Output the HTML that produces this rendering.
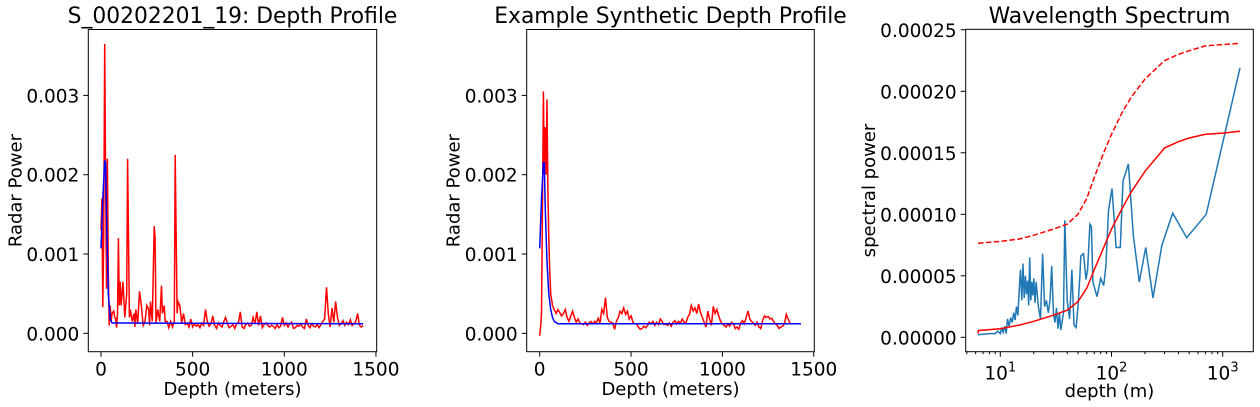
<!DOCTYPE html>
<html><head><meta charset="utf-8">
<style>
html,body{margin:0;padding:0;background:#fff;}
svg{display:block;font-family:"DejaVu Sans","Liberation Sans",sans-serif;}
</style></head>
<body>
<svg id="fig" width="1260" height="407" viewBox="0 0 1260 407" xmlns="http://www.w3.org/2000/svg"></svg>
<script>
// ---------- Panel 1 data (Radar Power in 1e-4 units) ----------
const p1RedDepth = [0,5,10,15,20,25,30,35,40,45,50,55,60,70,75,80,85,90,95,100,105,110,120,130,140,145,150,155,160,170,180,185,190,200,210,220,230,240,250,260,265,270,280,290,295,300,310,320,330,335,345,350,360,370,380,390,400,405,410,415,420,430,440,450,460,470,480,490];
const p1RedVal = [13,17,3.3,12,36.5,20,5.6,22,8,1,3.5,1.5,2.5,2.8,2,1.8,0.7,2.5,12,3.5,6.5,3.5,6.5,2,5,22,12,2,3,1.5,2.5,0.8,3,1.2,5.3,3.5,1,1.5,3.5,3,1,4,1.5,13.5,12,1.3,3,1.5,6,2.5,3.5,1.5,1.5,0.7,1.5,0.8,1.5,22.5,12,2.5,4,3.5,1.3,2.5,1.1,1.3,0.8,1.8];
const p1TailStart = 500, p1TailStep = 10;
const p1Tail = [0.8,1.2,0.9,1.1,0.7,1.3,1.0,3.0,1.5,0.9,1.2,2.2,1.0,0.6,1.3,1.0,0.8,1.5,2.0,1.2,0.7,0.9,1.1,0.6,1.2,1.4,2.7,0.8,0.6,1.1,1.3,0.9,1.0,2.0,1.2,2.7,1.0,2.2,0.7,1.1,1.3,1.0,0.8,1.0,0.9,0.6,1.1,0.7,0.9,2.0,1.0,1.3,0.8,1.2,1.4,0.6,0.7,1.0,0.9,1.2,0.8,0.6,1.8,1.0,0.7,1.2,0.9,0.8,1.1,0.7,1.1,1.5,1.8,5.8,2.5,0.8,3.2,1.4,4.0,2.0,1.0,1.2,1.6,1.0,1.4,1.1,1.7,1.0,1.2,1.5,2.5,1.0,0.8,1.0];
const p1BlueDepth = [0,10,20,25,30,40,50,60,1430];
const p1BlueVal = [10.7,17,21.7,21.6,15,5,1.8,1.3,1.2];

// ---------- Panel 2 data ----------
const p2RedDepth = [0,5,10,15,20,25,30,35,40,45,50,55,60,70,80,90];
const p2RedVal = [-0.3,0.8,2.5,15,30.5,20,26,20,29.5,18,12,8,5,3.5,3,2.5];
const p2TailStart = 100, p2TailStep = 10;
const p2Tail = [3,2.6,2.2,2.5,3.0,2.0,1.5,2.2,2.8,2.0,1.4,1.8,1.3,1.2,1.1,1.4,1.0,1.3,1.5,1.2,1.5,1.3,1.9,1.3,3.0,2.5,4.5,2.0,1.5,1.4,1.3,0.5,1.5,2.0,2.8,2.5,3.2,2.4,2.8,1.8,2.2,1.4,1.2,1.2,0.8,0.5,0.6,0.9,0.7,1.0,1.4,1.2,1.5,1.0,1.4,1.1,1.8,1.5,1.1,1.2,1.0,1.3,0.9,1.4,1.6,1.2,1.5,1.3,1.8,1.4,1.3,2.0,2.4,3.5,2.8,3.2,2.5,3.7,2.6,2.0,1.4,0.8,2.8,1.8,1.0,3.4,2.5,3.0,2.2,1.5,1.2,1.0,0.8,1.2,0.9,1.4,1.2,0.6,0.8,0.5,1.3,1.6,1.2,2.0,2.8,1.8,1.5,1.3,1.0,1.4,0.8,0.6,1.6,2.2,2.0,2.1,1.8,1.9,1.5,1.2,1.0,0.6,0.8,0.9,1.2,2.4,1.8,1.3];
const p2BlueDepth = [0,10,20,25,30,40,50,60,70,80,100,1430];
const p2BlueVal = [10.7,17,21.5,21.5,16,9,5,3,2,1.5,1.2,1.2];

// ---------- Panel 3 data (spectral power in 1e-5 units) ----------
const p3BlueDepth = [6.3,8,9,9.5,10,10.3,10.6,11,11.3,11.6,12,12.4,12.8,13.2,13.6,14,14.4,14.8,15.2,15.6,16,16.4,16.8,17.2,17.6,18,18.4,18.8,19.2,19.6,20,20.5,21,22,23,24,25,26,27,28,29,30,31,32,33,34,35,37,38,40,42,44,46,48,50,52,53,56,59,61,64,66,68,74,80,85,89,94,101,110,120,127,142,157,178,203,236,284,355,475,710,1430];
const p3BlueVal = [0.2,0.3,0.3,0.5,0.3,0.8,0.4,0.9,0.3,1.5,0.9,1.6,1.2,2,1.4,2.5,1.8,3.8,5.5,3,6,3.2,5,3.5,4.6,2.6,6.5,3,4.5,3.4,4.8,2.8,4.5,2.5,1.5,6.8,2.5,3,2,3,5.8,2,1.2,2.4,0.7,2,0.6,2,9.5,3,1.5,5.5,1,0.8,2.5,5,6.6,6.8,4.7,5.5,9.2,9,4.5,3.3,4.8,4.2,5.8,10.3,12.1,7.3,7.3,12.7,14.1,8.3,4.5,7.3,3.2,7.5,10.1,8.1,10,21.9];
const p3DashDepth = [6.3,10,15,20,30,40,50,60,70,85,100,125,150,200,300,400,500,700,1000,1430];
const p3DashVal = [7.65,7.8,8.0,8.3,8.8,9.2,10,11.3,13,15,16.5,18.3,19.5,21,22.5,23,23.3,23.7,23.8,23.9];
const p3SolidDepth = [6.3,6.35,10,15,20,30,40,50,60,70,85,100,125,150,200,300,400,500,700,1000,1430];
const p3SolidVal = [0.3,0.55,0.7,1.0,1.3,1.8,2.2,2.9,4.0,5.5,7.3,8.8,10.5,11.8,13.5,15.4,15.9,16.2,16.5,16.6,16.75];

const p1Ticks = [0,500,1000,1500];
const p1YTicks = ["0.000","0.001","0.002","0.003"];
const p3YTicks = ["0.00000","0.00005","0.00010","0.00015","0.00020","0.00025"];
const p3XTicks = [1,2,3];

const FS = 18.5, LFS = 18, TFS = 21.8;
const NS = "http://www.w3.org/2000/svg";
const svg = document.getElementById('fig');
function el(tag, attrs, parent){
  const e = document.createElementNS(NS, tag);
  for (const k in attrs) e.setAttribute(k, attrs[k]);
  (parent||svg).appendChild(e);
  return e;
}
function txt(s, attrs, parent){ const t = el('text', attrs, parent); t.textContent = s; return t; }

function expand(depths, vals, start, step, tail){
  const d = depths.slice(), v = vals.slice();
  tail.forEach((val,i)=>{ d.push(start+i*step); v.push(val); });
  return [d,v];
}

function depthPanel(name, title, box, x0px, pxPerM, redD, redV, blueD, blueV){
  const g = el('g', {});
  
  
  const xs = d => x0px + d*pxPerM;
  const ys = v => 333.3 - v*7.93;
  const clip = name + '-clip';
  const cp = el('clipPath', {id: clip}, g);
  el('rect', {x: box.l, y: box.t, width: box.r-box.l, height: box.b-box.t}, cp);
  let pts = redD.map((d,i)=>xs(d).toFixed(1)+','+ys(redV[i]).toFixed(1)).join(' ');
  const r = el('polyline', {points: pts, fill:'none', stroke:'#ff0000', 'stroke-width':1.5, 'clip-path':'url(#'+clip+')'}, g);
  
  
  pts = blueD.map((d,i)=>xs(d).toFixed(1)+','+ys(blueV[i]).toFixed(1)).join(' ');
  const b = el('polyline', {points: pts, fill:'none', stroke:'#0000ff', 'stroke-width':1.5, 'clip-path':'url(#'+clip+')'}, g);
  
  
  el('rect', {x: box.l, y: box.t, width: box.r-box.l, height: box.b-box.t, fill:'none', stroke:'#000', 'stroke-width':1}, g);
  p1Ticks.forEach(t=>{
    const x = xs(t);
    el('line', {x1:x, x2:x, y1:box.b, y2:box.b+5, stroke:'#000'}, g);
    const tl = txt(String(t), {x:x, y:box.b+24, 'font-size':FS, 'text-anchor':'middle'}, g);
    
    
  });
  p1YTicks.forEach(s=>{
    const y = ys(parseFloat(s)*1e4);
    el('line', {x1:box.l-5, x2:box.l, y1:y, y2:y, stroke:'#000'}, g);
    const tl = txt(s, {x:box.l-9, y:y+7, 'font-size':FS, 'text-anchor':'end'}, g);
    
    
  });
  const tt = txt(title, {x:(box.l+box.r)/2, y:23, 'font-size':TFS, 'text-anchor':'middle'}, g);
  
  
  const xl = txt('Depth (meters)', {x:(box.l+box.r)/2, y:395, 'font-size':LFS, 'text-anchor':'middle'}, g);
  
  
  const yx = box.l-67, yy = (box.t+box.b)/2;
  const yl = txt('Radar Power', {x:yx, y:yy, 'font-size':LFS, 'text-anchor':'middle', transform:'rotate(-90 '+yx+' '+yy+')'}, g);
  
  
}

let [d1,v1] = expand(p1RedDepth, p1RedVal, p1TailStart, p1TailStep, p1Tail);
depthPanel('depth-profile-panel', 'S_00202201_19: Depth Profile', {l:88.3,r:376.7,t:29.5,b:351.7}, 101, 0.1833, d1, v1, p1BlueDepth, p1BlueVal);
let [d2,v2] = expand(p2RedDepth, p2RedVal, p2TailStart, p2TailStep, p2Tail);
depthPanel('synthetic-profile-panel', 'Example Synthetic Depth Profile', {l:526.7,r:814.3,t:29.5,b:351.7}, 539.7, 0.1827, d2, v2, p2BlueDepth, p2BlueVal);

// ---------- Panel 3 ----------
(function(){
  const box = {l:965.7, r:1253.3, t:29.3, b:351.7};
  const g = el('g', {});
  
  
  const xs = d => 1000.3 + (Math.log10(d)-1)*111.2;
  const ys = v => 337.3 - v*12.3;
  const cp = el('clipPath', {id:'p3clip'}, g);
  el('rect', {x: box.l, y: box.t, width: box.r-box.l, height: box.b-box.t}, cp);
  function line(D,V,attrs,name){
    const pts = D.map((d,i)=>xs(d).toFixed(1)+','+ys(V[i]).toFixed(1)).join(' ');
    const p = el('polyline', Object.assign({points:pts, fill:'none', 'clip-path':'url(#p3clip)'}, attrs), g);
    
    
  }
  line(p3BlueDepth, p3BlueVal, {stroke:'#1f77b4','stroke-width':1.5}, 'spectrum-line');
  line(p3DashDepth, p3DashVal, {stroke:'#ff0000','stroke-width':1.5,'stroke-dasharray':'5.5,2.4'}, 'upper-fit-dashed-line');
  line(p3SolidDepth, p3SolidVal, {stroke:'#ff0000','stroke-width':1.5}, 'fit-line');
  el('rect', {x: box.l, y: box.t, width: box.r-box.l, height: box.b-box.t, fill:'none', stroke:'#000', 'stroke-width':1}, g);
  p3YTicks.forEach(s=>{
    const y = ys(parseFloat(s)*1e5);
    el('line', {x1:box.l-5, x2:box.l, y1:y, y2:y, stroke:'#000'}, g);
    const tl = txt(s, {x:box.l-9, y:y+7, 'font-size':FS, 'text-anchor':'end'}, g);
    
    
  });
  for (let e=0;e<=3;e++){
    for (let m=1;m<10;m++){
      const d = m*Math.pow(10,e);
      const x = xs(d);
      if (x<box.l || x>box.r) continue;
      el('line', {x1:x, x2:x, y1:box.b, y2:box.b+(m===1?5:2.5), stroke:'#000'}, g);
    }
  }
  p3XTicks.forEach(e=>{
    const x = xs(Math.pow(10,e));
    const t = el('text', {x:x, y:box.b+28, 'font-size':FS, 'text-anchor':'middle'}, g);
    
    
    t.textContent = '10';
    const sup = el('tspan', {dy:-8, 'font-size':13}, t);
    sup.textContent = String(e);
  });
  const tt = txt('Wavelength Spectrum', {x:(box.l+box.r)/2, y:23, 'font-size':TFS, 'text-anchor':'middle'}, g);
  
  
  const xl = txt('depth (m)', {x:(box.l+box.r)/2, y:397, 'font-size':LFS, 'text-anchor':'middle'}, g);
  
  
  const yx = 875, yy = (box.t+box.b)/2;
  const yl = txt('spectral power', {x:yx, y:yy, 'font-size':LFS, 'text-anchor':'middle', transform:'rotate(-90 '+yx+' '+yy+')'}, g);
  
  
})();
</script>
</body></html>
